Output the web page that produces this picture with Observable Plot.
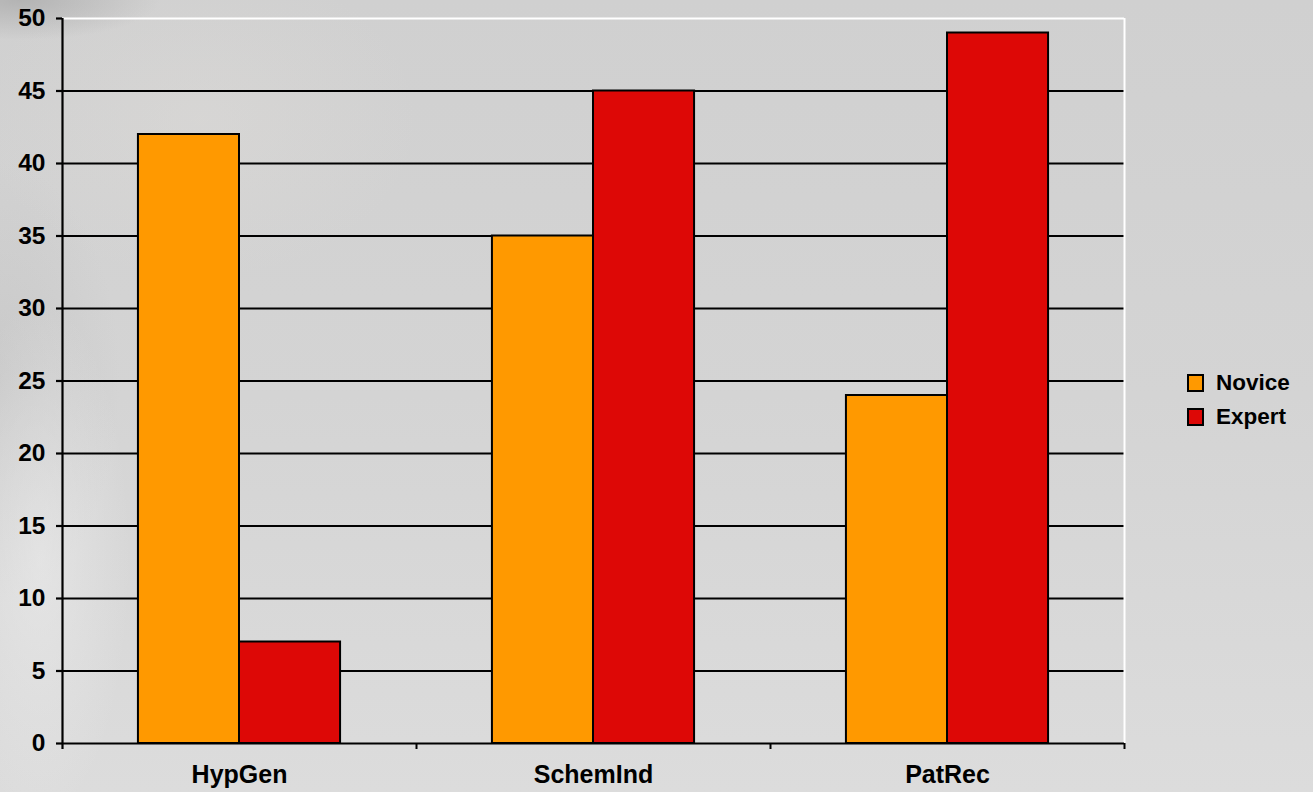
<!DOCTYPE html>
<html>
<head>
<meta charset="utf-8">
<script src="https://cdn.jsdelivr.net/npm/d3@7"></script>
<script src="https://cdn.jsdelivr.net/npm/@observablehq/plot@0.6"></script>
<style>
  html, body { margin: 0; padding: 0; }
  body {
    width: 1313px; height: 792px; overflow: hidden; position: relative;
    font-family: "Liberation Sans", Arial, sans-serif;
    background:
      radial-gradient(ellipse 140px 40px at 20px 0px, rgba(160,160,160,0.6), rgba(160,160,160,0) 100%),
      radial-gradient(ellipse 90px 260px at 40px 560px, rgba(238,238,238,0.55), rgba(238,238,238,0) 100%),
      radial-gradient(ellipse 120px 220px at 0px 380px, rgba(185,185,185,0.4), rgba(185,185,185,0) 100%),
      radial-gradient(ellipse 220px 160px at 200px 120px, rgba(225,222,218,0.35), rgba(225,222,218,0) 100%),
      linear-gradient(180deg, #d0d0d0 0%, #d4d4d4 50%, #dcdcdc 100%);
  }
  #chart { position: absolute; left: 0; top: 0; }
  #legend { position: absolute; left: 1187px; top: 366px; font-weight: bold; font-size: 22.5px; color: #000; }
  #legend .row { display: flex; align-items: center; height: 34px; }
  #legend .sw { width: 13px; height: 14px; border: 2px solid #000; margin-right: 12px; }
</style>
</head>
<body>
<div id="chart"></div>
<div id="legend"></div>
<script>
const categories = ["HypGen", "SchemInd", "PatRec"];
const seriesNames = ["Novice", "Expert"];
const noviceValues = [42, 35, 24];
const expertValues = [7, 45, 49];
const yTicks = [0, 5, 10, 15, 20, 25, 30, 35, 40, 45, 50];
const seriesColors = ["#FF9900", "#DD0806"];

const W = 1313, H = 792, mL = 62, mR = 189, mT = 18, mB = 49;
const bw = (W - mL - mR) / categories.length;   // band width in px
const barW = bw * 0.2855;                        // bar width (style)
const outer = (bw - 2 * barW) / 2;

const novice = categories.map((c, i) => ({category: c, value: noviceValues[i]}));
const expert = categories.map((c, i) => ({category: c, value: expertValues[i]}));
const font = "'Liberation Sans', Arial, sans-serif";

const chart = Plot.plot({
  width: W, height: H,
  marginLeft: mL, marginRight: mR, marginTop: mT, marginBottom: mB,
  style: {background: "transparent", fontFamily: font, color: "#000"},
  x: {domain: categories, padding: 0, label: null},
  y: {domain: [0, 50], label: null},
  marks: [
    Plot.ruleY(yTicks.filter(t => t > 0 && t < 50), {stroke: "#000", strokeWidth: 2.2}),
    Plot.ruleY([50], {stroke: "#fff", strokeWidth: 2}),
    Plot.ruleX([categories[categories.length - 1]], {dx: bw / 2, y1: 50, y2: 0, stroke: "#fff", strokeWidth: 2}),
    Plot.barY(novice, {x: "category", y: "value", fill: seriesColors[0], stroke: "#000", strokeWidth: 2,
      insetLeft: outer, insetRight: bw - outer - barW}),
    Plot.barY(expert, {x: "category", y: "value", fill: seriesColors[1], stroke: "#000", strokeWidth: 2,
      insetLeft: outer + barW, insetRight: outer}),
    Plot.ruleY([0], {stroke: "#000", strokeWidth: 2.2}),
    Plot.ruleX([categories[0]], {dx: -bw / 2, y1: 50, y2: 0, insetBottom: -6, stroke: "#000", strokeWidth: 2.2}),
    Plot.ruleX(categories.slice(1), {dx: -bw / 2, y1: 0, y2: 0, insetBottom: -6, stroke: "#000", strokeWidth: 2}),
    Plot.ruleX([categories[categories.length - 1]], {dx: bw / 2, y1: 0, y2: 0, insetBottom: -6, stroke: "#000", strokeWidth: 2}),
    Plot.axisY({ticks: yTicks, tickSize: 6, tickPadding: 11, strokeWidth: 2.2, fontSize: 24.5, fontWeight: "bold", fontFamily: font}),
    Plot.axisX({tickSize: 0, tickPadding: 22, fontSize: 25, fontWeight: "bold", fontFamily: font})
  ]
});
document.getElementById("chart").appendChild(chart);

const legend = document.getElementById("legend");
seriesNames.forEach((name, i) => {
  const row = document.createElement("div");
  row.className = "row";
  const sw = document.createElement("span");
  sw.className = "sw";
  sw.style.background = seriesColors[i];
  const label = document.createElement("span");
  label.textContent = name;
  row.appendChild(sw);
  row.appendChild(label);
  legend.appendChild(row);
});
</script>
</body>
</html>
